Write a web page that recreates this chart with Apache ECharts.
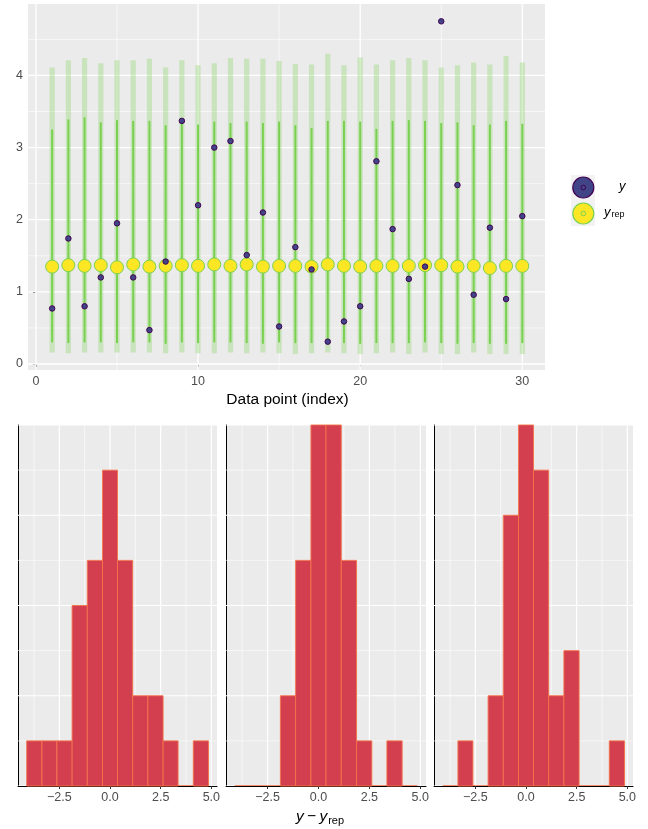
<!DOCTYPE html>
<html><head><meta charset="utf-8">
<script src="https://cdn.jsdelivr.net/npm/echarts@6/dist/echarts.min.js"></script>
<style>html,body{margin:0;padding:0;background:#fff}#c{width:648px;height:829px}</style>
</head><body><div id="c"></div>
<script>
// ---- data ----
const idx = Array.from({length: 30}, (_, i) => i + 1);
const yObs = [0.77,1.74,0.80,1.20,1.95,1.20,0.47,1.42,3.37,2.20,3.00,3.09,1.51,2.10,0.52,1.62,1.31,0.31,0.59,0.80,2.81,1.87,1.18,1.35,4.75,2.48,0.96,1.89,0.90,2.05];
const yrepMed = [1.35,1.37,1.36,1.37,1.34,1.38,1.35,1.36,1.37,1.36,1.38,1.36,1.38,1.35,1.36,1.36,1.35,1.38,1.36,1.35,1.36,1.36,1.36,1.37,1.37,1.35,1.36,1.33,1.36,1.36];
const lo90 = [0.16,0.15,0.16,0.16,0.16,0.16,0.16,0.15,0.16,0.15,0.15,0.16,0.15,0.16,0.15,0.14,0.15,0.16,0.15,0.14,0.15,0.16,0.14,0.16,0.14,0.14,0.16,0.14,0.14,0.14];
const hi90 = [4.11,4.21,4.24,4.17,4.21,4.21,4.23,4.11,4.21,4.14,4.17,4.24,4.23,4.23,4.20,4.16,4.15,4.30,4.14,4.25,4.15,4.21,4.24,4.21,4.11,4.14,4.18,4.15,4.27,4.18];
const lo50 = [0.30,0.29,0.30,0.30,0.29,0.30,0.30,0.28,0.30,0.29,0.30,0.30,0.29,0.28,0.30,0.29,0.29,0.30,0.29,0.28,0.29,0.29,0.29,0.30,0.29,0.28,0.29,0.28,0.28,0.29];
const hi50 = [3.25,3.39,3.42,3.35,3.38,3.37,3.37,3.31,3.36,3.32,3.36,3.34,3.36,3.34,3.36,3.31,3.27,3.37,3.37,3.36,3.26,3.37,3.38,3.37,3.34,3.35,3.31,3.32,3.37,3.33];
const topXTicks = [0, 10, 20, 30];
const topYTicks = [0, 1, 2, 3, 4];

// histograms of y - y_rep (three draws)
const binEdges = [-4.11,-3.36,-2.62,-1.87,-1.12,-0.37,0.37,1.12,1.87,2.62,3.36,4.11,4.86];
const counts1 = [1,1,1,4,5,7,5,2,2,1,0,1];
const counts2 = [0,0,0,2,5,8,8,5,1,0,1,0];
const counts3 = [0,1,0,2,6,8,7,2,3,0,0,1];
const histXTicks = [-2.5, 0, 2.5, 5];

// ---- styles ----
const FONT = 'Liberation Sans, Arial, sans-serif';
const BG = '#EBEBEB';
const chart = echarts.init(document.getElementById('c'), null, {renderer: 'canvas'});

function gridLineSeries(xi, yi, vals, dir, width) {
  return {
    type: 'custom', xAxisIndex: xi, yAxisIndex: yi, silent: true, z: 1, clip: true,
    data: vals.map(v => [v]),
    encode: {x: -1, y: -1},
    renderItem: function (params, api) {
      const v = api.value(0);
      const cs = params.coordSys;
      let p1, p2;
      if (dir === 'v') {
        const x = api.coord([v, 0])[0];
        p1 = [x, cs.y]; p2 = [x, cs.y + cs.height];
      } else {
        const y = api.coord([0, v])[1];
        p1 = [cs.x, y]; p2 = [cs.x + cs.width, y];
      }
      return {type: 'line', shape: {x1: p1[0], y1: p1[1], x2: p2[0], y2: p2[1]},
        style: {stroke: '#FFFFFF', lineWidth: width}};
    }
  };
}

const topMajorX = [0, 10, 20, 30];
const topMinorX = [5, 15, 25];
const topMajorY = [0, 1, 2, 3, 4];
const topMinorY = [0.5, 1.5, 2.5, 3.5, 4.5];
const histMajorX = [-2.5, 0, 2.5, 5];
const histMinorX = [-3.75, -1.25, 1.25, 3.75];
const histMajorY = [0, 2, 4, 6, 8];
const histMinorY = [1, 3, 5, 7];

const grids = [
  {left: 28, top: 4, width: 517, height: 366},
  {left: 18, top: 425, width: 199, height: 361},
  {left: 226, top: 425, width: 200, height: 361},
  {left: 434, top: 425, width: 199, height: 361}
].map(g => Object.assign({show: true, backgroundColor: BG, borderWidth: 0, containLabel: false}, g));

const xAxes = [{
  gridIndex: 0, type: 'value', min: -0.49, max: 31.4,
  axisLine: {show: false}, splitLine: {show: false},
  axisTick: {show: true, customValues: topXTicks, length: 3, lineStyle: {color: '#333333'}},
  axisLabel: {customValues: topXTicks, color: '#4D4D4D', fontSize: 12.5, fontFamily: FONT, margin: 5}
}];
const yAxes = [{
  gridIndex: 0, type: 'value', min: -0.083, max: 4.99,
  axisLine: {show: false}, splitLine: {show: false},
  axisTick: {show: true, customValues: topYTicks, length: 3, lineStyle: {color: '#333333'}},
  axisLabel: {customValues: topYTicks, color: '#4D4D4D', fontSize: 12.5, fontFamily: FONT, margin: 5}
}];
for (let k = 1; k <= 3; k++) {
  xAxes.push({
    gridIndex: k, type: 'value', min: -4.54, max: 5.28,
    axisLine: {show: true, onZero: false, lineStyle: {color: '#000000', width: 1}},
    splitLine: {show: false},
    axisTick: {show: true, customValues: histXTicks, length: 3, lineStyle: {color: '#333333'}},
    axisLabel: {customValues: histXTicks, color: '#4D4D4D', fontSize: 12.5, fontFamily: FONT, margin: 5,
      formatter: v => (v < 0 ? '\u2212' : '') + Math.abs(v).toFixed(1)}
  });
  yAxes.push({
    gridIndex: k, type: 'value', min: 0, max: 8, interval: 1,
    axisLine: {show: true, onZero: false, lineStyle: {color: '#000000', width: 1}},
    axisTick: {show: false}, axisLabel: {show: false}, splitLine: {show: false}
  });
}

const series = [];
// top panel gridlines
series.push(gridLineSeries(0, 0, topMinorX, 'v', 0.6));
series.push(gridLineSeries(0, 0, topMinorY, 'h', 0.6));
series.push(gridLineSeries(0, 0, topMajorX, 'v', 1.3));
series.push(gridLineSeries(0, 0, topMajorY, 'h', 1.3));

// 90% intervals (wide, light)
series.push({
  type: 'custom', xAxisIndex: 0, yAxisIndex: 0, z: 3, silent: true,
  data: idx.map((x, i) => [x, lo90[i], hi90[i]]),
  encode: {x: 0, y: [1, 2]},
  renderItem: function (params, api) {
    const a = api.coord([api.value(0), api.value(1)]);
    const b = api.coord([api.value(0), api.value(2)]);
    return {type: 'rect', shape: {x: a[0] - 2.6, y: b[1], width: 5.2, height: a[1] - b[1]},
      style: {fill: 'rgba(122,209,81,0.3)'}};
  }
});
// 50% intervals (thin, bright)
series.push({
  type: 'custom', xAxisIndex: 0, yAxisIndex: 0, z: 4, silent: true,
  data: idx.map((x, i) => [x, lo50[i], hi50[i]]),
  encode: {x: 0, y: [1, 2]},
  renderItem: function (params, api) {
    const a = api.coord([api.value(0), api.value(1)]);
    const b = api.coord([api.value(0), api.value(2)]);
    return {type: 'line', shape: {x1: a[0], y1: a[1], x2: b[0], y2: b[1]},
      style: {stroke: '#7AD151', lineWidth: 2}};
  }
});
// y_rep medians
series.push({
  type: 'scatter', xAxisIndex: 0, yAxisIndex: 0, z: 5, silent: true,
  symbol: 'circle', symbolSize: 13,
  data: idx.map((x, i) => [x, yrepMed[i]]),
  itemStyle: {color: '#FDE725', borderColor: '#7AD151', borderWidth: 1, opacity: 1}
});
// observed y
series.push({
  type: 'scatter', xAxisIndex: 0, yAxisIndex: 0, z: 6, silent: true,
  symbol: 'circle', symbolSize: 5.5,
  data: idx.map((x, i) => [x, yObs[i]]),
  itemStyle: {color: '#414487', borderColor: '#440154', borderWidth: 1, opacity: 1}
});

// histogram panels
[counts1, counts2, counts3].forEach((cnts, k) => {
  const ai = k + 1;
  series.push(gridLineSeries(ai, ai, histMinorX, 'v', 0.6));
  series.push(gridLineSeries(ai, ai, histMinorY, 'h', 0.6));
  series.push(gridLineSeries(ai, ai, histMajorX, 'v', 1.2));
  series.push(gridLineSeries(ai, ai, histMajorY, 'h', 1.2));
  series.push({
    type: 'custom', xAxisIndex: ai, yAxisIndex: ai, z: 3, silent: true,
    data: cnts.map((c, i) => [binEdges[i], binEdges[i + 1], c]),
    encode: {x: [0, 1], y: 2},
    renderItem: function (params, api) {
      const a = api.coord([api.value(0), 0]);
      const b = api.coord([api.value(1), api.value(2)]);
      if (api.value(2) === 0) {
        return {type: 'line', shape: {x1: a[0], y1: a[1] - 0.5, x2: b[0], y2: a[1] - 0.5},
          style: {stroke: '#F4734A', lineWidth: 0.8}};
      }
      return {type: 'rect', shape: {x: a[0], y: b[1], width: b[0] - a[0], height: a[1] - b[1]},
        style: {fill: '#D43F4F', stroke: '#F4734A', lineWidth: 0.9}};
    }
  });
});

const graphic = [
  {type: 'text', x: 287.5, y: 400, style: {text: 'Data point (index)', font: '15.5px ' + FONT, fill: '#000', align: 'center', verticalAlign: 'middle'}},
  // x title bottom
  {type: 'text', x: 320, y: 817, style: {
    text: '{i|y} {n|\u2212} {i|y}{s|rep}', x: 0, y: 0, align: 'center', verticalAlign: 'middle',
    rich: {
      i: {font: 'italic 15.5px ' + FONT, fill: '#000'},
      n: {font: '15.5px ' + FONT, fill: '#000'},
      s: {font: '11px ' + FONT, fill: '#000', padding: [8, 0, 0, 1]}
    }
  }},
  // legend
  {type: 'rect', shape: {x: 571, y: 175, width: 24, height: 51}, style: {fill: '#F2F2F2'}},
  {type: 'circle', shape: {cx: 583.3, cy: 187.5, r: 10.5}, style: {fill: '#414487', stroke: '#440154', lineWidth: 1.2}},
  {type: 'circle', shape: {cx: 583.3, cy: 187.5, r: 2.3}, style: {fill: 'none', stroke: '#440154', lineWidth: 1}},
  {type: 'circle', shape: {cx: 583.3, cy: 213.5, r: 10.5}, style: {fill: '#FDE725', stroke: '#7AD151', lineWidth: 1.2}},
  {type: 'circle', shape: {cx: 583.3, cy: 213.5, r: 2.3}, style: {fill: 'none', stroke: '#7AD151', lineWidth: 1}},
  {type: 'text', x: 619, y: 186, style: {text: 'y', font: 'italic 13px ' + FONT, fill: '#000', verticalAlign: 'middle'}},
  {type: 'text', x: 604, y: 212, style: {
    text: '{i|y}{s|rep}', verticalAlign: 'middle',
    rich: {i: {font: 'italic 13px ' + FONT, fill: '#000'}, s: {font: '9px ' + FONT, fill: '#000', padding: [6, 0, 0, 1]}}
  }}
];

chart.setOption({
  animation: false,
  backgroundColor: '#FFFFFF',
  textStyle: {fontFamily: FONT},
  grid: grids, xAxis: xAxes, yAxis: yAxes, series: series, graphic: graphic
});
</script></body></html>
